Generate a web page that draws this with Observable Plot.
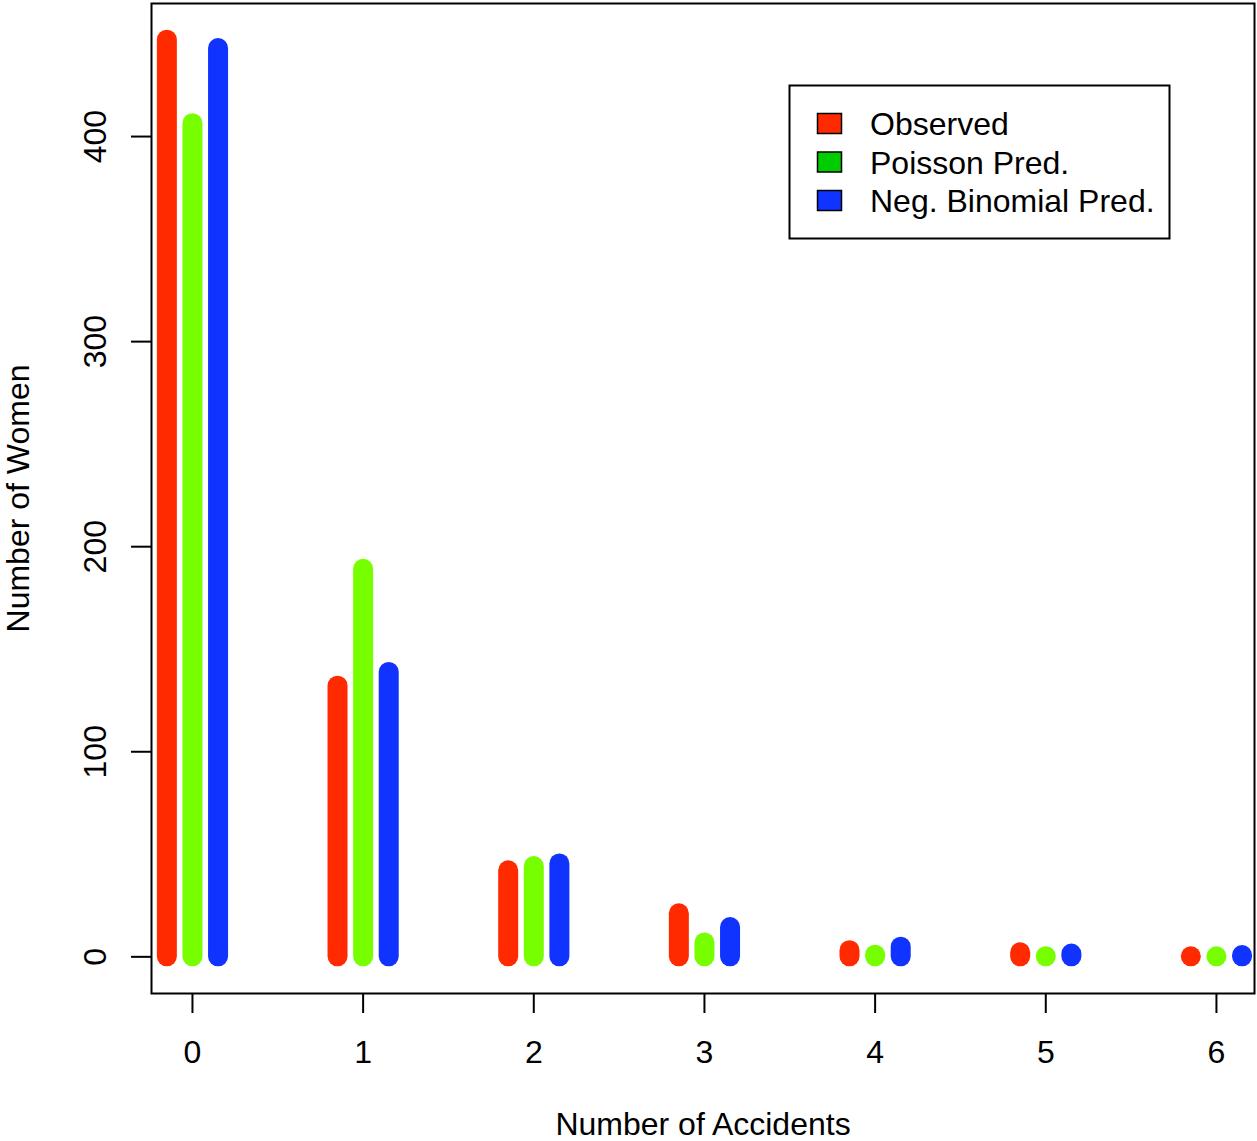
<!DOCTYPE html>
<html>
<head>
<meta charset="utf-8">
<script src="https://cdn.jsdelivr.net/npm/d3@7"></script>
<script src="https://cdn.jsdelivr.net/npm/@observablehq/plot@0.6"></script>
<style>
  html, body { margin: 0; padding: 0; background: #fff; }
  #chart { position: relative; width: 1257px; height: 1141px; }
  svg { font-family: "Liberation Sans", Arial, sans-serif; }
</style>
</head>
<body>
<div id="chart"></div>
<script>
// ---- data ----
const accidents = [0, 1, 2, 3, 4, 5, 6];
const observed = [447, 132, 42, 21, 3, 2, 0];
const poissonPred = [406.3, 189.0, 44.0, 6.8, 0.8, 0.07, 0.01];
const negBinPred = [442.9, 138.7, 45.3, 14.3, 4.7, 1.4, 0.6];
const seriesNames = ["Observed", "Poisson Pred.", "Neg. Binomial Pred."];
const barColors = ["#FF2A00", "#77FF00", "#1033FF"];
const legendColors = ["#FF2A00", "#00CC00", "#1033FF"];
const yTicks = [0, 100, 200, 300, 400];
const xTicks = [0, 1, 2, 3, 4, 5, 6];

const seriesValues = [observed, poissonPred, negBinPred];
const groupOffset = [-0.15, 0, 0.15];
const rows = [];
seriesValues.forEach((vals, s) => {
  vals.forEach((v, i) => {
    rows.push({series: seriesNames[s], pos: accidents[i] + groupOffset[s], value: v});
  });
});

const FS = 32;
const plot = Plot.plot({
  width: 1257,
  height: 1141,
  marginLeft: 151,
  marginRight: 3,
  marginTop: 3,
  marginBottom: 148,
  style: {fontFamily: '"Liberation Sans", Arial, sans-serif', background: "white"},
  x: {domain: [-0.24, 6.223], axis: null},
  y: {domain: [-17.88, 464.88], axis: null},
  color: {domain: seriesNames, range: barColors},
  marks: [
    Plot.ruleX(rows, {x: "pos", y1: 0, y2: "value", stroke: "series", strokeWidth: 20, strokeLinecap: "round"}),
    Plot.frame({stroke: "black", strokeWidth: 2}),
    Plot.axisX({ticks: xTicks, tickSize: 20, tickFormat: () => "", label: null, strokeWidth: 2}),
    Plot.axisY({ticks: yTicks, tickSize: 20, tickFormat: () => "", label: null, strokeWidth: 2}),
    Plot.text(xTicks, {x: d => d, frameAnchor: "bottom", dy: 59, lineAnchor: "middle", textAnchor: "middle", text: d => String(d), fontSize: FS, fill: "black"}),
    Plot.text(yTicks, {y: d => d, frameAnchor: "left", dx: -56, rotate: -90, lineAnchor: "middle", textAnchor: "middle", text: d => String(d), fontSize: FS, fill: "black"}),
    Plot.text(["Number of Accidents"], {frameAnchor: "bottom", dy: 131, lineAnchor: "middle", textAnchor: "middle", text: d => d, fontSize: FS, fill: "black"}),
    Plot.text(["Number of Women"], {frameAnchor: "left", dx: -133, rotate: -90, lineAnchor: "middle", textAnchor: "middle", text: d => d, fontSize: FS, fill: "black"})
  ]
});
document.getElementById("chart").appendChild(plot);

// legend drawn into the svg
const svg = d3.select(plot);
const lg = svg.append("g").attr("text-anchor", "start");
lg.append("rect").attr("x", 789.5).attr("y", 85.5).attr("width", 380).attr("height", 153)
  .attr("fill", "white").attr("stroke", "black").attr("stroke-width", 2);
seriesNames.forEach((name, i) => {
  const cy = 123.5 + i * 38.5;
  lg.append("rect").attr("x", 817.5).attr("y", cy - 10).attr("width", 24).attr("height", 20)
    .attr("fill", legendColors[i]).attr("stroke", "black").attr("stroke-width", 1.5);
  lg.append("text").attr("x", 870).attr("y", cy).attr("dy", "0.36em").attr("text-anchor", "start")
    .attr("font-size", FS).attr("fill", "black").text(name);
});
</script>
</body>
</html>
